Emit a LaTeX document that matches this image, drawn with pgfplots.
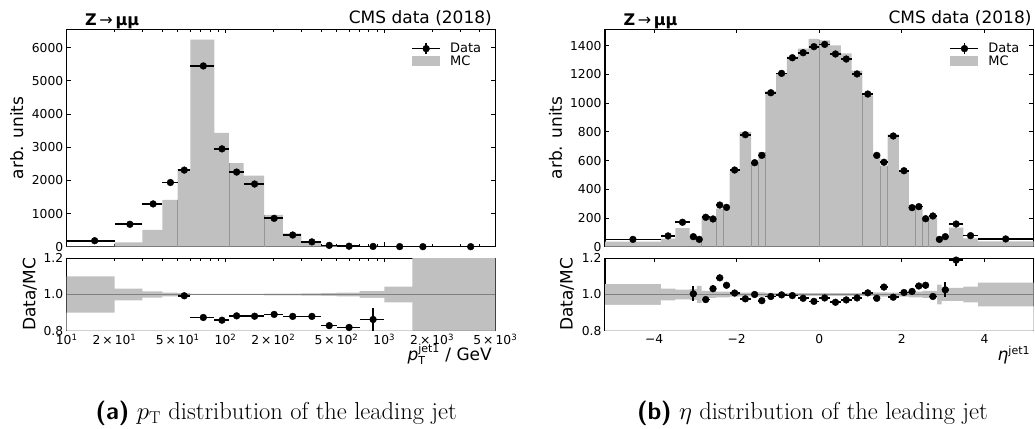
\documentclass[border=0pt]{standalone}
\usepackage{fontspec}
\usepackage{pgfplots}
\usepackage{pgfplotstable}
\pgfplotsset{compat=1.18}
\newfontfamily\dejavu{DejaVu Sans}

\definecolor{mc}{RGB}{192,192,192}
\definecolor{edgegray}{RGB}{150,150,150}
\definecolor{unity}{RGB}{128,128,128}

% ---------------- leading-jet pT ----------------
% MC histogram (left bin edges) with the relative MC stat. band
\pgfplotstableread{
edge   mc     lo     hi
10     10     0.900  1.100
20     130    0.968  1.032
30     510    0.983  1.017
40     1410   0.990  1.010
50     2340   0.993  1.007
60     6240   0.996  1.004
85     3430   0.996  1.004
105    2520   0.996  1.004
130    2140   0.996  1.004
175    960    0.995  1.005
230    400    0.995  1.005
300    165    0.994  1.006
400    48     0.992  1.008
500    18     0.990  1.010
700    9      0.981  1.019
1000   3      0.957  1.043
1500   1      0.500  1.500
2000   0.5    0.500  1.500
5000   0.5    0.500  1.500
}\ptmc

% data: bin centre, value, half bin width, stat. error
\pgfplotstableread{
x      y      ex     ey
15     180    5      0
25     675    5      0
35     1290   5      0
45     1935   5      0
55     2310   5      0
72.5   5450   12.5   0
95     2950   10     0
117.5  2250   12.5   0
152.5  1890   22.5   0
202.5  855    27.5   0
265    352    35     0
350    145    50     0
450    40     50     0
600    15     100    0
850    8      150    0
1250   3      250    0
1750   1      250    0
3500   0.5    1500   0
}\ptdata

\pgfplotstableread{
x      r      ex     er
55     0.993  5      0.008
72.5   0.873  12.5   0.006
95     0.858  10     0.007
117.5  0.882  12.5   0.007
152.5  0.880  22.5   0.007
202.5  0.890  27.5   0.009
265    0.879  35     0.010
350    0.879  50     0.012
450    0.828  50     0.016
600    0.818  100    0.020
850    0.862  150    0.065
}\ptratio

% ---------------- leading-jet eta ----------------
\pgfplotstableread{
edge    mc     lo     hi
-5.191  36     0.942  1.058
-3.839  57     0.967  1.033
-3.489  130    0.973  1.027
-3.139  70     0.970  1.030
-2.964  40     0.953  1.047
-2.853  211    0.980  1.020
-2.650  187    0.980  1.020
-2.500  266    0.984  1.016
-2.322  261    0.984  1.016
-2.172  530    0.988  1.012
-1.930  799    0.990  1.010
-1.653  585    0.988  1.012
-1.479  658    0.988  1.012
-1.305  1084   0.991  1.009
-1.044  1209   0.992  1.008
-0.783  1324   0.992  1.008
-0.522  1380   0.992  1.008
-0.261  1448   0.992  1.008
0.000   1436   0.992  1.008
0.261   1402   0.992  1.008
0.522   1347   0.992  1.008
0.783   1226   0.992  1.008
1.044   1054   0.991  1.009
1.305   650    0.988  1.012
1.479   565    0.988  1.012
1.653   783    0.990  1.010
1.930   523    0.988  1.012
2.172   267    0.984  1.016
2.322   266    0.984  1.016
2.500   186    0.980  1.020
2.650   216    0.980  1.020
2.853   40     0.945  1.055
2.964   68     0.963  1.037
3.139   133    0.963  1.037
3.489   58     0.956  1.044
3.839   37     0.935  1.065
5.191   37     0.935  1.065
}\etamc

\pgfplotstableread{
x        y      ex      ey
-4.515   51     0.676   0
-3.664   75     0.175   0
-3.314   170    0.175   0
-3.0515  70     0.0875  0
-2.9085  51     0.0555  0
-2.7515  205    0.1015  0
-2.575   193    0.075   0
-2.411   290    0.089   0
-2.247   274    0.075   0
-2.051   534    0.121   0
-1.7915  780    0.1385  0
-1.566   585    0.087   0
-1.392   636    0.087   0
-1.1745  1072   0.1305  0
-0.9135  1207   0.1305  0
-0.6525  1316   0.1305  0
-0.3915  1351   0.1305  0
-0.1305  1393   0.1305  0
0.1305   1409   0.1305  0
0.3915   1342   0.1305  0
0.6525   1307   0.1305  0
0.9135   1203   0.1305  0
1.1745   1063   0.1305  0
1.392    636    0.087   0
1.566    588    0.087   0
1.7915   771    0.1385  0
2.051    529    0.121   0
2.247    272    0.075   0
2.411    279    0.089   0
2.575    195    0.075   0
2.7515   214    0.1015  0
2.9085   51     0.0555  0
3.0515   70     0.0875  0
3.314    158    0.175   0
3.664    77     0.175   0
4.515    54     0.676   0
}\etadata

\pgfplotstableread{
x        r      ex      er
-3.0515  1.004  0.0875  0.042
-2.7515  0.972  0.1015  0.015
-2.575   1.032  0.075   0.020
-2.411   1.092  0.089   0.018
-2.247   1.051  0.075   0.018
-2.051   1.008  0.121   0.012
-1.7915  0.976  0.1385  0.010
-1.566   1.000  0.087   0.011
-1.392   0.966  0.087   0.011
-1.1745  0.989  0.1305  0.008
-0.9135  0.998  0.1305  0.008
-0.6525  0.994  0.1305  0.008
-0.3915  0.979  0.1305  0.008
-0.1305  0.962  0.1305  0.008
0.1305   0.981  0.1305  0.008
0.3915   0.957  0.1305  0.008
0.6525   0.970  0.1305  0.008
0.9135   0.981  0.1305  0.008
1.1745   1.009  0.1305  0.008
1.392    0.979  0.087   0.011
1.566    1.041  0.087   0.011
1.7915   0.985  0.1385  0.010
2.051    1.011  0.121   0.012
2.247    1.017  0.075   0.018
2.411    1.047  0.089   0.018
2.575    1.051  0.075   0.020
2.7515   0.989  0.1015  0.015
3.0515   1.026  0.0875  0.042
3.314    1.190  0.175   0.035
}\etaratio

\pgfplotsset{
  cmsbase/.style={
    scale only axis, width=428.6pt,
    axis line style={line width=1.1pt},
    tick style={line width=0.9pt, black},
    major tick length=4.2pt, minor tick length=2.4pt,
    tick align=inside, xtick pos=both, ytick pos=both,
    tick label style={font=\dejavu\fontsize{12.3}{13}\selectfont},
    /pgf/number format/assume math mode=true,
    /pgf/number format/1000 sep={},
    label style={font=\dejavu\fontsize{17}{17}\selectfont},
  },
  mainpanel/.style={cmsbase, height=217.4pt, ymin=0, xticklabels={}},
  ratiopanel/.style={cmsbase, height=72.4pt, ymin=0.8, ymax=1.2,
    ytick={0.8,1.0,1.2}, yticklabels={0.8,1.0,1.2}},
  datapts/.style={only marks, mark=*, mark size=3.4pt, black,
    mark options={fill=black, draw=black},
    /pgfplots/error bars/x dir=both, /pgfplots/error bars/x explicit,
    /pgfplots/error bars/y dir=both, /pgfplots/error bars/y explicit,
    /pgfplots/error bars/error bar style={line width=1.7pt, black},
    /pgfplots/error bars/error mark=none},
  datalegend/.style={legend image code/.code={
    \draw[black, line width=1.7pt] (8pt,0pt) -- (20pt,0pt);
    \draw[black, line width=1.7pt] (14pt,-5.5pt) -- (14pt,5.5pt);
    \fill[black] (14pt,0pt) circle (3.4pt);
    \path (0pt,0pt) -- (28pt,0pt);}},
  mclegend/.style={legend image code/.code={
    \fill[mc] (0pt,-5pt) rectangle (28pt,5pt);}},
  cmslegend/.style={legend cell align=left, reverse legend,
    legend style={draw=none, fill=none, inner sep=0pt,
      at={(axis description cs:1,1)}, anchor=north east,
      xshift=-13.3pt, yshift=-12.8pt,
      font=\dejavu\fontsize{13}{13}\selectfont,
      nodes={inner sep=0.7pt}, row sep=0pt,
      /tikz/every odd column/.append style={column sep=9pt}}},
}

\begin{document}
\begin{tikzpicture}
\useasboundingbox (0,0) rectangle (1035pt,428pt);

% ===== pT: distribution =====
\begin{axis}[mainpanel, at={(66.7pt,181.3pt)}, anchor=south west,
  xmode=log, xmin=10, xmax=5000, ymax=6555,
  xtick={10,100,1000},
  minor xtick={20,30,40,50,60,70,80,90,200,300,400,500,600,700,800,900,2000,3000,4000,5000},
  ytick={0,1000,2000,3000,4000,5000,6000},
  ylabel={arb. units},
  ylabel style={at={(axis description cs:-0.1166,0.5)}, anchor=center},
  cmslegend]
  \addplot[const plot, fill=mc, draw=none, mclegend] table[x=edge, y=mc] {\ptmc} \closedcycle;
  \addplot[ycomb, draw=edgegray, line width=0.7pt, mark=none, forget plot]
    coordinates {(50,1410) (105,2520) (175,960)};
  \addplot[datapts, datalegend] table[x=x, y=y, x error=ex, y error=ey] {\ptdata};
  \legend{MC, Data}
\end{axis}

% ===== pT: ratio =====
\begin{axis}[ratiopanel, at={(66.7pt,97.3pt)}, anchor=south west,
  xmode=log, xmin=10, xmax=5000,
  xtick={10,100,1000},
  xticklabels={10\textsuperscript{1}, 10\textsuperscript{2}, 10\textsuperscript{3}},
  minor xtick={30,40,60,70,80,90,300,400,600,700,800,900,3000,4000},
  extra x ticks={20,50,200,500,2000,5000},
  extra x tick labels={2\,×\,10\textsuperscript{1}, 5\,×\,10\textsuperscript{1},
    2\,×\,10\textsuperscript{2}, 5\,×\,10\textsuperscript{2},
    2\,×\,10\textsuperscript{3}, 5\,×\,10\textsuperscript{3}},
  extra x tick style={major tick length=2.4pt},
  ylabel={Data/MC},
  ylabel style={at={(axis description cs:-0.0862,0.5)}, anchor=center},
  xlabel={\textit{p}$^{\mbox{\fontsize{11}{11}\selectfont jet1}}_{\mbox{\fontsize{11}{11}\selectfont T}}$ / GeV},
  xlabel style={at={(axis description cs:1,-0.4185)}, anchor=base east}]
  % MC stat. band: grey up to the upper edge, white below the lower edge
  \addplot[const plot, fill=mc, draw=none] table[x=edge, y=hi] {\ptmc} \closedcycle;
  \addplot[const plot, fill=white, draw=none] table[x=edge, y=lo] {\ptmc} \closedcycle;
  \addplot[unity, line width=1.4pt] coordinates {(10,1) (5000,1)};
  \addplot[datapts] table[x=x, y=r, x error=ex, y error=er] {\ptratio};
\end{axis}

% ===== eta: distribution =====
\begin{axis}[mainpanel, at={(605pt,181.3pt)}, anchor=south west,
  xmin=-5.191, xmax=5.191, ymax=1514,
  xtick={-4,-2,0,2,4},
  ytick={0,200,400,600,800,1000,1200,1400},
  ylabel={arb. units},
  ylabel style={at={(axis description cs:-0.1156,0.5)}, anchor=center},
  cmslegend]
  \addplot[const plot, fill=mc, draw=none, mclegend] table[x=edge, y=mc] {\etamc} \closedcycle;
  \addplot[ycomb, draw=edgegray, line width=0.7pt, mark=none, forget plot]
    coordinates {(-2.853,40) (-2.5,187) (-2.322,261) (-1.653,585) (-1.479,585)
      (-1.305,658) (0,1436) (1.044,1054) (1.479,565) (1.653,565)
      (2.322,266) (2.5,186) (2.65,186)};
  \addplot[datapts, datalegend] table[x=x, y=y, x error=ex, y error=ey] {\etadata};
  \legend{MC, Data}
\end{axis}

% ===== eta: ratio =====
\begin{axis}[ratiopanel, at={(605pt,97.3pt)}, anchor=south west,
  xmin=-5.191, xmax=5.191,
  xtick={-4,-2,0,2,4}, xticklabels={−4,−2,0,2,4},
  ylabel={Data/MC},
  ylabel style={at={(axis description cs:-0.0887,0.5)}, anchor=center},
  xlabel={\textit{η}$^{\mbox{\fontsize{11}{11}\selectfont jet1}}$},
  xlabel style={at={(axis description cs:1,-0.4185)}, anchor=base east}]
  \addplot[const plot, fill=mc, draw=none] table[x=edge, y=hi] {\etamc} \closedcycle;
  \addplot[const plot, fill=white, draw=none] table[x=edge, y=lo] {\etamc} \closedcycle;
  \addplot[unity, line width=1.4pt] coordinates {(-5.191,1) (5.191,1)};
  \addplot[datapts] table[x=x, y=r, x error=ex, y error=er] {\etaratio};
\end{axis}

% panel headers
\node[anchor=base west, inner sep=0pt] at (85pt,402pt)
  {\dejavu\fontsize{16}{16}\selectfont\bfseries Z\,{\mdseries →}\,μμ};
\node[anchor=base east, inner sep=0pt] at (492pt,404pt)
  {\dejavu\fontsize{17}{17}\selectfont CMS data (2018)};
\node[anchor=base west, inner sep=0pt] at (623.3pt,402pt)
  {\dejavu\fontsize{16}{16}\selectfont\bfseries Z\,{\mdseries →}\,μμ};
\node[anchor=base east, inner sep=0pt] at (1031.7pt,404pt)
  {\dejavu\fontsize{17}{17}\selectfont CMS data (2018)};

% sub-figure captions
\node[anchor=base east, inner sep=0pt] at (457pt,8.7pt)
  {\fontsize{24.5}{28}\selectfont{\sffamily\bfseries (a)} $p_\mathrm{T}$ distribution of the leading jet};
\node[anchor=base east, inner sep=0pt] at (988pt,8.7pt)
  {\fontsize{24.5}{28}\selectfont{\sffamily\bfseries (b)} $\eta$ distribution of the leading jet};
\end{tikzpicture}
\end{document}
